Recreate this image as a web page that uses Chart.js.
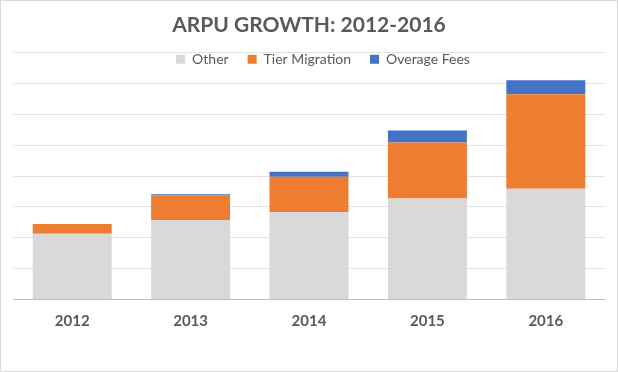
<!DOCTYPE html>
<html>
<head>
<meta charset="utf-8">
<script src="https://cdn.jsdelivr.net/npm/chart.js@4"></script>
<style>
  body { margin: 0; background: #fff; }
  #wrap { width: 618px; height: 372px; box-sizing: border-box; border: 1px solid #d9d9d9; }
  canvas { display: block; }
</style>
</head>
<body>
<div id="wrap"><canvas id="arpu-chart" width="616" height="370"></canvas></div>
<script>
// ARPU growth, stacked by source
const years = ["2012", "2013", "2014", "2015", "2016"];
const other = [21.3, 25.8, 28.4, 32.7, 35.9];
const tierMigration = [3.2, 7.9, 11.4, 18.2, 30.6];
const overageFees = [0, 0.4, 1.6, 3.9, 4.6];

const textColor = "#595959";

// legend sits on the top grid line, like Excel does it:
// give its box room to draw after the chart area is laid out,
// and nudge it a bit right of centre
const legendOverlap = {
  id: "legendOverlap",
  afterLayout(chart) {
    chart.legend.height += 24;
    chart.legend.bottom += 24;
    chart.legend.left += 28;
  },
};

const arpuCtx = document.getElementById("arpu-chart").getContext("2d");
new Chart(arpuCtx, {
  type: "bar",
  data: {
    labels: years,
    datasets: [
      { label: "Other", data: other, backgroundColor: "#d9d9d9" },
      { label: "Tier Migration", data: tierMigration, backgroundColor: "#ed7d31" },
      { label: "Overage Fees", data: overageFees, backgroundColor: "#4472c4" },
    ],
  },
  options: {
    responsive: false,
    animation: false,
    layout: { padding: { left: 12, right: 12, top: 0, bottom: 28.5 } },
    datasets: {
      bar: { categoryPercentage: 1, barPercentage: 0.667 },
    },
    plugins: {
      title: {
        display: true,
        text: "ARPU GROWTH: 2012-2016",
        color: textColor,
        font: { family: "Lato", size: 21, weight: "bold" },
        padding: { top: 12, bottom: -5 },
      },
      legend: {
        position: "top",
        maxHeight: 19.5,
        labels: {
          color: textColor,
          font: { family: "Lato", size: 14 },
          boxWidth: 9,
          boxHeight: 9,
          padding: 19,
        },
      },
      tooltip: { enabled: false },
    },
    scales: {
      x: {
        stacked: true,
        grid: { display: false, drawTicks: false },
        border: { display: false },
        ticks: {
          color: textColor,
          padding: 12.5,
          font: { family: "Lato", size: 15, weight: "bold" },
        },
      },
      y: {
        stacked: true,
        min: 0,
        max: 80,
        border: { display: false },
        grid: {
          drawTicks: false,
          color: (c) => (c.tick && c.tick.value === 0 ? "#bfbfbf" : "#e3e3e3"),
        },
        ticks: { display: false, stepSize: 10 },
      },
    },
  },
  plugins: [legendOverlap],
});
</script>
</body>
</html>
